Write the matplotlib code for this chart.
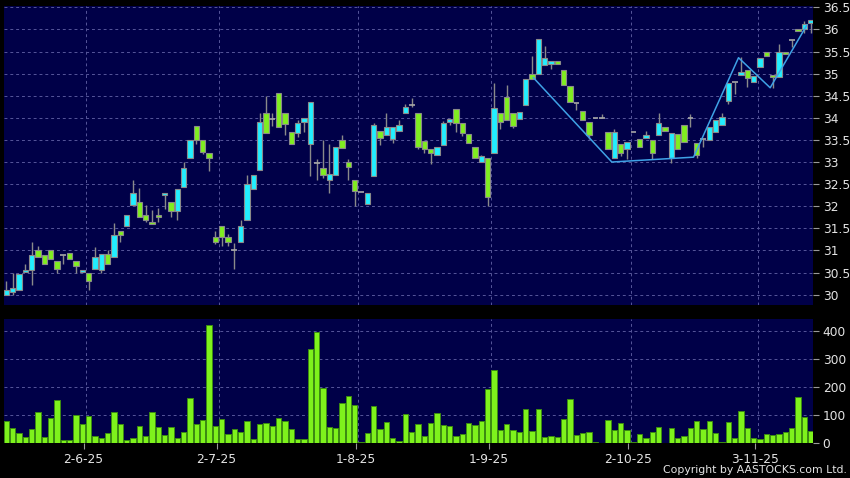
import numpy as np
import matplotlib
matplotlib.use("Agg")
import matplotlib.pyplot as plt

# daily OHLC (HK$), one entry per trading day, 15 May 2025 .. 14 Nov 2025
opens = [30.00, 30.05, 30.10, 30.51, 30.55, 31.01, 30.90, 31.01, 30.76, 30.90,
         30.95, 30.76, 30.51, 30.50, 30.59, 30.55, 30.93, 30.85, 31.44, 31.56,
         32.02, 32.09, 31.81, 31.64, 31.81, 32.26, 32.09, 31.90, 32.44, 33.10,
         33.81, 33.49, 33.20, 31.30, 31.56, 31.31, 31.01, 31.19, 31.69, 32.40,
         32.81, 34.11, 33.97, 34.56, 34.11, 33.69, 33.65, 33.90, 33.40, 32.97,
         32.86, 32.60, 32.70, 33.49, 33.00, 32.60, 32.33, 32.06, 32.68, 33.71,
         33.61, 33.52, 33.70, 34.11, 34.30, 34.11, 33.48, 33.29, 33.15, 33.38,
         33.91, 34.20, 33.89, 33.64, 33.33, 33.00, 33.08, 33.20, 34.11, 34.48,
         34.10, 33.97, 34.29, 35.00, 35.00, 35.20, 35.22, 35.28, 35.09, 34.71,
         34.34, 34.16, 33.91, 33.99, 33.99, 33.68, 33.10, 33.40, 33.30, 33.68,
         33.52, 33.54, 33.50, 33.61, 33.80, 33.10, 33.64, 33.84, 33.99, 33.42,
         33.52, 33.50, 33.68, 33.84, 34.39, 34.81, 34.98, 35.09, 34.81, 35.15,
         35.49, 34.98, 34.93, 35.49, 35.76, 36.00, 36.00, 36.14]
highs = [30.31, 30.48, 30.46, 30.69, 31.20, 31.11, 30.90, 31.01, 30.76, 30.90,
         30.95, 30.76, 30.55, 30.50, 31.07, 30.93, 31.01, 31.62, 31.44, 31.81,
         32.60, 32.41, 32.02, 31.91, 31.96, 32.31, 32.09, 32.40, 33.00, 33.49,
         33.81, 33.49, 33.20, 31.44, 31.56, 31.37, 31.16, 31.69, 32.70, 32.70,
         34.12, 34.50, 34.12, 34.56, 34.11, 33.69, 33.95, 34.00, 34.35, 33.06,
         33.50, 33.40, 33.35, 33.61, 33.06, 32.60, 32.33, 32.31, 33.89, 33.71,
         34.11, 33.80, 33.95, 34.31, 34.45, 34.11, 33.48, 33.29, 33.35, 33.93,
         33.97, 34.20, 33.89, 33.64, 33.33, 33.16, 33.08, 34.78, 34.11, 34.75,
         34.10, 34.14, 34.88, 35.41, 35.78, 35.62, 35.28, 35.28, 35.09, 34.71,
         34.34, 34.16, 33.91, 33.99, 34.09, 33.68, 33.74, 33.40, 33.45, 33.68,
         33.52, 33.70, 33.50, 34.11, 33.80, 33.66, 33.64, 33.84, 34.09, 33.42,
         33.52, 33.80, 33.95, 34.11, 34.78, 34.81, 35.37, 35.09, 34.94, 35.35,
         35.49, 34.98, 35.68, 35.49, 35.77, 36.00, 36.20, 36.21]
lows = [30.00, 30.00, 30.10, 30.51, 30.21, 30.85, 30.69, 30.80, 30.50, 30.69,
        30.81, 30.50, 30.51, 30.10, 30.59, 30.50, 30.69, 30.85, 31.20, 31.56,
        32.02, 31.75, 31.64, 31.60, 31.65, 31.94, 31.75, 31.69, 32.44, 33.10,
        33.40, 33.19, 32.79, 31.14, 31.09, 31.09, 30.59, 31.19, 31.69, 32.40,
        32.81, 33.65, 33.82, 33.80, 33.61, 33.40, 33.56, 33.69, 32.68, 32.60,
        32.64, 32.30, 32.70, 33.31, 32.60, 32.01, 32.33, 32.06, 32.68, 33.38,
        33.61, 33.44, 33.70, 34.11, 34.24, 33.29, 33.20, 32.96, 33.15, 33.38,
        33.83, 33.68, 33.59, 33.44, 33.08, 33.00, 32.01, 33.20, 33.74, 33.95,
        33.76, 33.97, 34.29, 34.88, 35.00, 35.20, 35.11, 35.22, 34.75, 34.35,
        34.18, 33.96, 33.52, 33.99, 33.99, 33.29, 33.10, 33.14, 33.06, 33.68,
        33.35, 33.54, 33.07, 33.61, 33.70, 32.98, 33.29, 33.45, 33.80, 33.10,
        33.33, 33.50, 33.68, 33.84, 34.31, 34.53, 34.98, 34.69, 34.81, 35.15,
        35.39, 34.68, 34.93, 35.45, 35.60, 35.96, 35.91, 35.92]
closes = [30.10, 30.15, 30.46, 30.55, 30.90, 30.85, 30.69, 30.80, 30.59, 30.90,
          30.81, 30.65, 30.55, 30.30, 30.85, 30.93, 30.69, 31.35, 31.35, 31.81,
          32.30, 31.75, 31.69, 31.60, 31.76, 32.31, 31.90, 32.40, 32.86, 33.49,
          33.49, 33.23, 33.10, 31.19, 31.30, 31.19, 31.01, 31.56, 32.51, 32.70,
          33.91, 33.65, 33.97, 33.80, 33.86, 33.40, 33.89, 34.00, 34.35, 32.97,
          32.70, 32.74, 33.35, 33.31, 32.89, 32.34, 32.33, 32.31, 33.83, 33.55,
          33.80, 33.80, 33.83, 34.25, 34.30, 33.33, 33.29, 33.20, 33.35, 33.88,
          33.97, 33.89, 33.65, 33.44, 33.08, 33.14, 32.20, 34.22, 33.91, 33.95,
          33.81, 34.14, 34.88, 34.88, 35.78, 35.36, 35.28, 35.22, 34.75, 34.35,
          34.34, 33.96, 33.61, 33.99, 33.99, 33.29, 33.67, 33.21, 33.45, 33.68,
          33.35, 33.61, 33.21, 33.89, 33.70, 33.66, 33.29, 33.45, 33.99, 33.15,
          33.52, 33.80, 33.95, 34.02, 34.78, 34.81, 35.04, 34.91, 34.94, 35.35,
          35.39, 34.93, 35.49, 35.45, 35.76, 35.96, 36.12, 36.21]

# volume (thousand shares)
volumes = [79, 53, 38, 24, 51, 110, 22, 91, 155, 12,
           13, 100, 68, 97, 25, 20, 37, 111, 69, 11,
           20, 62, 27, 110, 58, 30, 59, 18, 40, 161,
           70, 84, 421, 62, 86, 34, 51, 40, 80, 15,
           70, 72, 60, 91, 79, 51, 15, 15, 335, 395,
           197, 58, 53, 142, 167, 136, 6, 38, 132, 50,
           77, 18, 7, 104, 40, 67, 26, 71, 109, 64,
           62, 26, 32, 73, 64, 78, 192, 260, 46, 68,
           47, 40, 122, 44, 121, 21, 27, 22, 85, 156,
           30, 36, 39, 6, 2, 83, 47, 71, 47, 4,
           33, 18, 40, 59, 2, 56, 19, 26, 56, 79,
           51, 80, 38, 4, 77, 18, 114, 54, 20, 15,
           32, 30, 34, 40, 53, 164, 94, 44]

# month labels and the trading-day index they fall on
date_labels = ["2-6-25", "2-7-25", "1-8-25", "1-9-25", "2-10-25", "3-11-25"]
date_index = [12, 33, 55, 76, 98, 118]

# pattern line drawn over the price (day index, price)
pattern_x = [83.2, 95.6, 108.5, 115.6, 120.6, 126.4]
pattern_y = [34.91, 33.00, 33.11, 35.36, 34.68, 36.10]

BG = "#000048"
GRID = "#56569a"
TXT = "#e4e4e4"
UP = "#22eeff"
DOWN = "#80ee20"
EDGE = "#8a8a8a"

o = np.array(opens)
h = np.array(highs)
l = np.array(lows)
c = np.array(closes)
x = np.arange(len(o))

fig = plt.figure(figsize=(8.5, 4.78), dpi=100, facecolor="black")
ax = fig.add_axes([4 / 850, 1 - 305 / 478, 809 / 850, 299 / 478], facecolor=BG)
axv = fig.add_axes([4 / 850, 1 - 443.3 / 478, 809 / 850, 124.3 / 478], facecolor=BG)

# price panel
ax.vlines(x, l, h, color=EDGE, lw=1, zorder=2)
doji = np.isclose(o, c)
body = ~doji
colors = np.where(c > o, UP, DOWN)
ax.bar(x[body], np.abs(c - o)[body], bottom=np.minimum(o, c)[body], width=0.82,
       color=colors[body], edgecolor=EDGE, linewidth=0.8, zorder=3)
ax.hlines(c[doji], x[doji] - 0.45, x[doji] + 0.45, color="#a8a8a8", lw=1.2, zorder=3)
ax.plot(pattern_x, pattern_y, color="#3fa2e6", lw=1.1, zorder=4)

ax.set_xlim(-0.36, 127.36)
ax.set_ylim(29.765, 36.53)
ax.set_yticks(np.arange(30, 36.51, 0.5))
ax.set_yticklabels(["%g" % v for v in np.arange(30, 36.51, 0.5)])

# volume panel
axv.bar(x, volumes, width=0.86, color="#7ef21c", edgecolor="#3c8c12", linewidth=0.7, zorder=3)
axv.set_xlim(-0.36, 127.36)
axv.set_ylim(0, 442)
axv.set_yticks([0, 100, 200, 300, 400])

for a in (ax, axv):
    a.yaxis.tick_right()
    a.tick_params(axis="y", colors="#9a9a9a", labelcolor=TXT, labelsize=8.8,
                  length=4, width=0.8, pad=3)
    a.grid(axis="y", color=GRID, linestyle=(0, (3, 3)), lw=0.7, zorder=0)
    for d in date_index:
        a.axvline(d + 0.6, color=GRID, linestyle=(0, (3, 3)), lw=0.7, zorder=0)
    for s in a.spines.values():
        s.set_visible(False)

ax.set_xticks([])
axv.set_xticks([d + 0.2 for d in date_index])
axv.set_xticklabels(date_labels)
axv.tick_params(axis="x", colors="#9a9a9a", labelcolor=TXT, labelsize=8.8,
                length=4, width=0.8, pad=3)

fig.text(847 / 850, 1 - 470 / 478, "Copyright by AASTOCKS.com Ltd.", ha="right",
         va="center", color=TXT, fontsize=7.8)

fig.savefig("out.png", dpi=100, facecolor="black")
